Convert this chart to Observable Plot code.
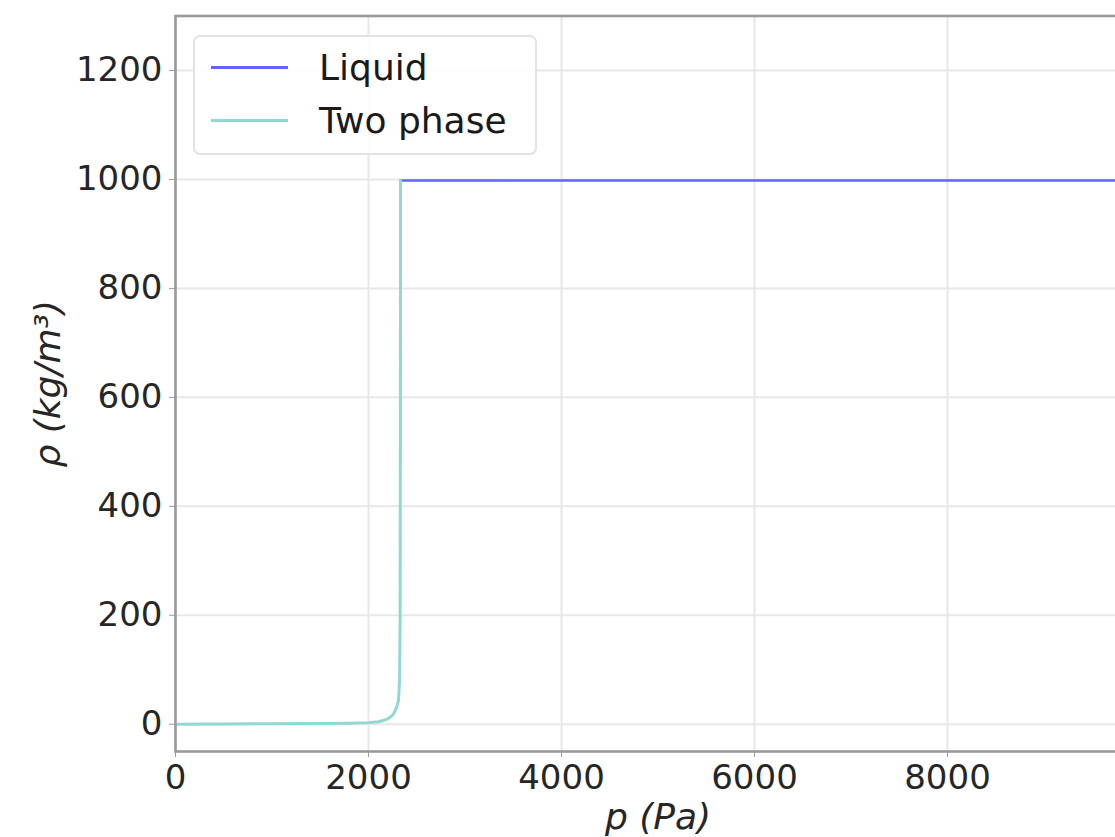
<!DOCTYPE html>
<html>
<head>
<meta charset="utf-8">
<script src="https://cdn.jsdelivr.net/npm/d3@7"></script>
<script src="https://cdn.jsdelivr.net/npm/@observablehq/plot@0.6"></script>
<style>
  html, body { margin: 0; padding: 0; overflow: hidden; background: #fff; }
  #wrap { position: relative; width: 1115px; height: 837px; overflow: hidden; }
  #chart svg { max-width: none !important; }
  #legend {
    position: absolute; left: 193px; top: 35px; width: 340px; height: 116px;
    border: 2px solid #e3e3e3; border-radius: 7px; background: rgba(255,255,255,0.85);
    font-family: "DejaVu Sans", sans-serif; font-size: 36px; color: #1a1a1a;
  }
  .row { position: absolute; left: 0; height: 40px; display: flex; align-items: center; }
  .sw { width: 77px; height: 3px; margin-left: 16px; margin-right: 31px; }
</style>
</head>
<body>
<div id="wrap">
  <div id="chart"></div>
  <div id="legend"></div>
</div>
<script>
// ---- data ----
const seriesNames = ["Liquid", "Two phase"];
const seriesColors = ["#6262ff", "#8fd8d4"];

const liquidP   = [2332, 4000, 6000, 8000, 10000];
const liquidRho = [998, 998, 998, 998, 998];

const twoPhaseP   = [0, 500, 1000, 1500, 1800, 2000, 2100, 2155, 2200, 2240, 2262, 2290, 2311, 2322, 2328, 2330, 2332];
const twoPhaseRho = [0, 0.5, 1, 1.5, 2, 3, 4.5, 7, 10, 15, 20, 30, 44, 80, 200, 500, 998];

const xTicks = [0, 2000, 4000, 6000, 8000];
const yTicks = [0, 200, 400, 600, 800, 1000, 1200];

// ---- tables ----
const liquid = liquidP.map((p, i) => ({p, rho: liquidRho[i]}));
const twoPhase = twoPhaseP.map((p, i) => ({p, rho: twoPhaseRho[i]}));

const tickFont = 34;
const chart = Plot.plot({
  width: 1140,
  height: 837,
  marginLeft: 175,
  marginRight: 0,
  marginTop: 15.5,
  marginBottom: 86,
  style: {fontFamily: "DejaVu Sans, sans-serif", fontSize: tickFont + "px", color: "#262626", background: "white", maxWidth: "none"},
  x: {domain: [0, 10000]},
  y: {domain: [-50, 1300]},
  marks: [
    Plot.gridX(xTicks, {stroke: "#e8e8e8", strokeOpacity: 1, strokeWidth: 2}),
    Plot.gridY(yTicks, {stroke: "#e8e8e8", strokeOpacity: 1, strokeWidth: 2}),
    Plot.line(liquid, {x: "p", y: "rho", stroke: seriesColors[0], strokeWidth: 2.6, clip: true}),
    Plot.line(twoPhase, {x: "p", y: "rho", stroke: seriesColors[1], strokeWidth: 3, clip: true}),
    Plot.frame({stroke: "#9a9a9a", strokeWidth: 2.6}),
    Plot.axisX(xTicks, {tickSize: 6, tickPadding: 7, stroke: "#9a9a9a", fill: "#262626", label: null, tickFormat: d => String(d)}),
    Plot.axisY(yTicks, {tickSize: 6, tickPadding: 7, stroke: "#9a9a9a", fill: "#262626", label: null, tickFormat: d => String(d)}),
    Plot.text(["p (Pa)"], {frameAnchor: "bottom", dy: 66, fontStyle: "italic", fontSize: 36, fill: "#262626", textAnchor: "middle", lineAnchor: "middle"}),
    Plot.text(["ρ (kg/m³)"], {frameAnchor: "left", dx: -127, rotate: -90, fontStyle: "italic", fontSize: 36, fill: "#262626", textAnchor: "middle", lineAnchor: "middle"})
  ]
});
document.getElementById("chart").appendChild(chart);

// ---- legend ----
const legend = document.getElementById("legend");
seriesNames.forEach((name, i) => {
  const row = document.createElement("div");
  row.className = "row";
  row.style.top = (i === 0 ? 10 : 63) + "px";
  const sw = document.createElement("span");
  sw.className = "sw";
  sw.style.background = seriesColors[i];
  const t = document.createElement("span");
  t.textContent = name;
  row.appendChild(sw);
  row.appendChild(t);
  legend.appendChild(row);
});
</script>
</body>
</html>
